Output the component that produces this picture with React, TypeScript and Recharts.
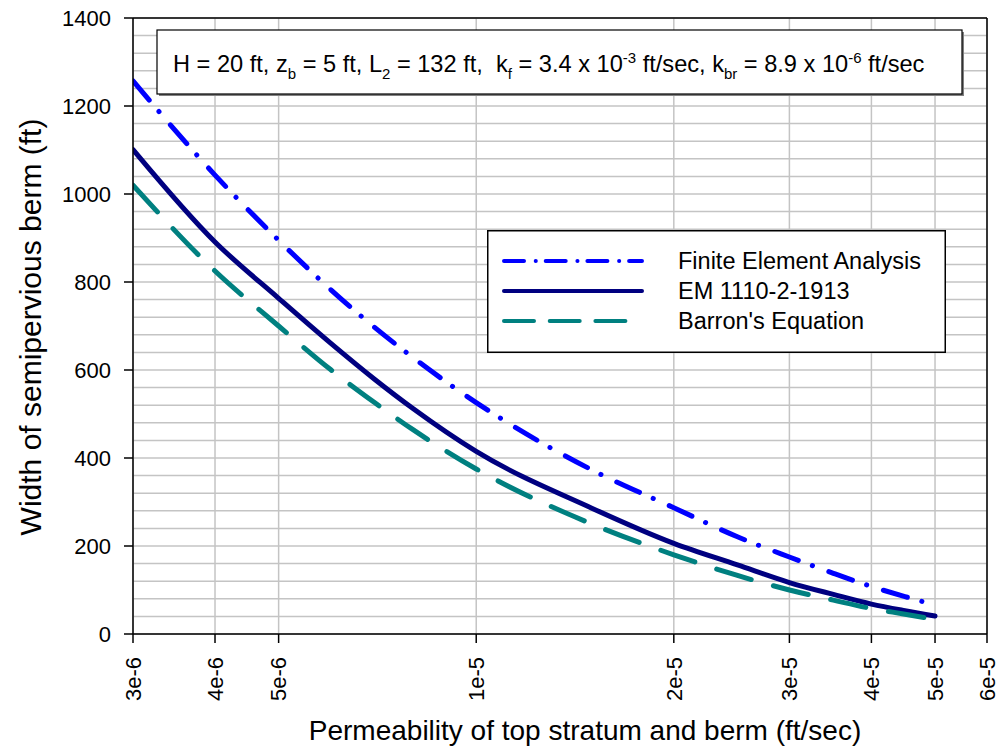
import React from "react";
import {
  LineChart,
  Line,
  XAxis,
  YAxis,
  CartesianGrid,
  ReferenceLine,
  Legend,
  Customized,
} from "recharts";

// ---- data ----
const kValues = [3e-6, 4e-6, 5e-6, 6e-6, 7e-6, 8e-6, 1e-5, 1.5e-5, 2e-5, 2.5e-5, 3e-5, 3.5e-5, 4e-5, 4.5e-5, 5e-5];
const feaWidths = [1257, 1043, 895, 783, 697, 629, 526, 373, 287, 221, 175, 138, 108, 85, 66];
const emWidths = [1101, 891, 763, 661, 579, 513, 415, 286, 206, 157, 117, 90, 68, 53, 41];
const barronWidths = [1020, 825, 700, 601, 526, 465, 375, 250, 180, 133, 100, 77, 58, 45, 33];

const xTicks = [3e-6, 4e-6, 5e-6, 1e-5, 2e-5, 3e-5, 4e-5, 5e-5, 6e-5];
const xTickLabels = ["3e-6", "4e-6", "5e-6", "1e-5", "2e-5", "3e-5", "4e-5", "5e-5", "6e-5"];
const yTicks = [0, 200, 400, 600, 800, 1000, 1200, 1400];
const yGrid = Array.from({ length: 36 }, (_, i) => i * 40);

const seriesNames = ["Finite Element Analysis", "EM 1110-2-1913", "Barron's Equation"];
const seriesKeys = ["fea", "em", "barron"];

const data = kValues.map((k, i) => ({
  k,
  fea: feaWidths[i],
  em: emWidths[i],
  barron: barronWidths[i],
}));

const FONT = "'Liberation Sans', Arial, Helvetica, sans-serif";

const seriesStyle: Record<string, { color: string; dash?: string; legendDash?: string; width: number }> = {
  fea: { color: "#0000FF", dash: "25 15 0.1 17.5", legendDash: "20 11.7 0.1 9.9", width: 5 },
  em: { color: "#000080", width: 5 },
  barron: { color: "#008080", dash: "36 23", legendDash: "30 15.7", width: 5 },
};

const XTick = (props: any) => {
  const { x, y, payload } = props;
  const idx = xTicks.indexOf(payload.value);
  const label = idx >= 0 ? xTickLabels[idx] : String(payload.value);
  return (
    <text
      x={x}
      y={y}
      transform={`rotate(-90, ${x}, ${y})`}
      textAnchor="end"
      dy="0.35em"
      fontSize={22}
      fontFamily={FONT}
      fill="#000"
    >
      {label}
    </text>
  );
};

const XLabel = (props: any) => {
  const vb = props.viewBox || {};
  const cx = vb.x + vb.width / 2 + 25;
  const cy = vb.y + 106;
  return (
    <text x={cx} y={cy} textAnchor="middle" fontSize={28} fontFamily={FONT} fill="#000">
      Permeability of top stratum and berm (ft/sec)
    </text>
  );
};

const YLabel = (props: any) => {
  const vb = props.viewBox || {};
  const cx = 30;
  const cy = vb.y + vb.height / 2 + 1;
  return (
    <text
      x={cx}
      y={cy}
      transform={`rotate(-90, ${cx}, ${cy})`}
      textAnchor="middle"
      dominantBaseline="central"
      fontSize={30}
      fontFamily={FONT}
      fill="#000"
    >
      Width of semipervious berm (ft)
    </text>
  );
};

const Annotation = () => {
  const bx = 157, by = 30, bw = 805, bh = 64;
  const sub = { fontSize: 15 };
  return (
    <g>
      <rect x={bx + 2} y={by + 2} width={bw} height={bh} fill="#808080" />
      <rect x={bx} y={by} width={bw} height={bh} fill="#fff" stroke="#000" strokeWidth={1.2} />
      <text x={173} y={72} fontSize={23.6} fontFamily={FONT} fill="#000" xmlSpace="preserve">
        <tspan>H = 20 ft, z</tspan>
        <tspan dy={7} {...sub}>b</tspan>
        <tspan dy={-7}> = 5 ft, L</tspan>
        <tspan dy={7} {...sub}>2</tspan>
        <tspan dy={-7}> = 132 ft,  k</tspan>
        <tspan dy={7} {...sub}>f</tspan>
        <tspan dy={-7}> = 3.4 x 10</tspan>
        <tspan dy={-9} {...sub}>-3</tspan>
        <tspan dy={9}> ft/sec, k</tspan>
        <tspan dy={7} {...sub}>br</tspan>
        <tspan dy={-7}> = 8.9 x 10</tspan>
        <tspan dy={-9} {...sub}>-6</tspan>
        <tspan dy={9}> ft/sec</tspan>
      </text>
    </g>
  );
};

const LegendBox = () => {
  const w = 459, h = 123;
  return (
    <svg width={w} height={h} style={{ display: "block" }}>
      <rect x={0.75} y={0.75} width={w - 1.5} height={h - 1.5} fill="#fff" stroke="#000" strokeWidth={1.5} />
      {seriesKeys.map((key, i) => {
        const st = seriesStyle[key];
        const ly = 31 + i * 30;
        const x2 = key === "barron" ? 140 : 155;
        return (
          <g key={key}>
            <line
              x1={17}
              y1={ly}
              x2={x2}
              y2={ly}
              stroke={st.color}
              strokeWidth={4}
              strokeLinecap="round"
              strokeDasharray={st.legendDash}
            />
            <text x={191} y={ly} dominantBaseline="central" fontSize={23.5} fontFamily={FONT} fill="#000">
              {seriesNames[i]}
            </text>
          </g>
        );
      })}
    </svg>
  );
};

export default function App() {
  return (
    <div style={{ position: "absolute", left: 0, top: 0, width: 1003, height: 749, background: "#fff" }}>
      <LineChart
        width={1003}
        height={749}
        data={data}
        margin={{ top: 18, right: 16, bottom: 0, left: 0 }}
        style={{ fontFamily: FONT }}
      >
        <CartesianGrid
          stroke="#c4c4c4"
          strokeWidth={1.5}
          horizontalValues={yGrid}
          verticalValues={xTicks}
        />
        <XAxis
          dataKey="k"
          type="number"
          scale="log"
          domain={[3e-6, 6e-5]}
          ticks={xTicks}
          allowDataOverflow
          height={115}
          tickSize={9}
          tickMargin={14}
          tick={<XTick />}
          axisLine={{ stroke: "#000", strokeWidth: 1.5 }}
          tickLine={{ stroke: "#000", strokeWidth: 1.5 }}
          interval={0}
          label={XLabel}
        />
        <YAxis
          type="number"
          domain={[0, 1400]}
          ticks={yTicks}
          width={133}
          tickSize={9}
          tickMargin={13}
          tick={{ fontSize: 22, fill: "#000", fontFamily: FONT }}
          axisLine={{ stroke: "#000", strokeWidth: 1.5 }}
          tickLine={{ stroke: "#000", strokeWidth: 1.5 }}
          interval={0}
          label={YLabel}
        />
        <ReferenceLine y={1400} stroke="#000" strokeWidth={1.5} />
        <ReferenceLine x={6e-5} stroke="#000" strokeWidth={1.5} />
        {seriesKeys.map((key, i) => (
          <Line
            key={key}
            dataKey={key}
            name={seriesNames[i]}
            type="monotone"
            stroke={seriesStyle[key].color}
            strokeWidth={seriesStyle[key].width}
            strokeDasharray={seriesStyle[key].dash}
            strokeLinecap="round"
            dot={false}
            activeDot={false}
            isAnimationActive={false}
          />
        ))}
        <Customized component={Annotation} />
        <Legend
          layout="horizontal"
          verticalAlign="middle"
          align="center"
          content={<LegendBox />}
          wrapperStyle={{ position: "absolute", left: 487, top: 230, width: 459, height: 123 }}
        />
      </LineChart>
    </div>
  );
}
